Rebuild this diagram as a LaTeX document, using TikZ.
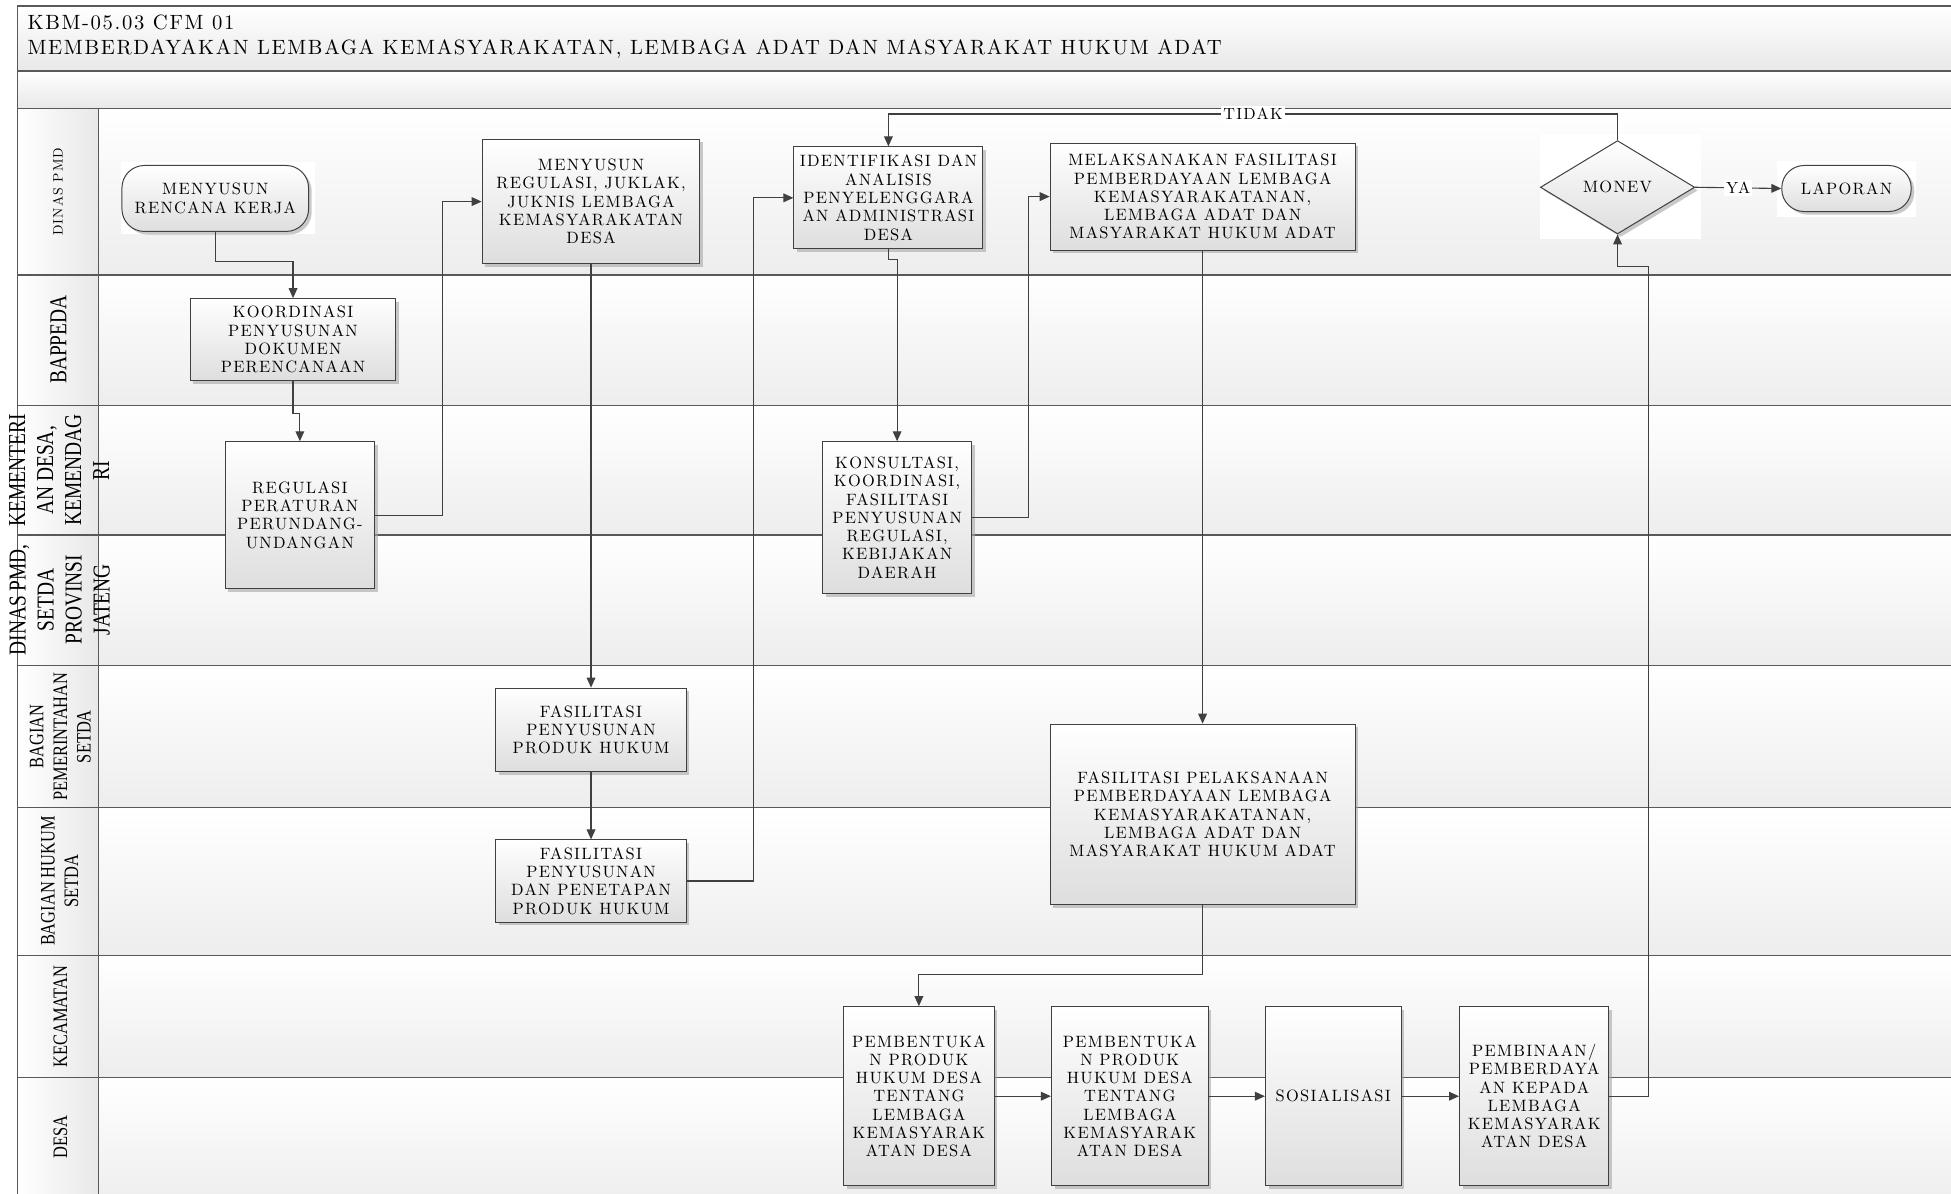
\documentclass[tikz,border=0pt]{standalone}
\usepackage{fontspec}
\usetikzlibrary{arrows.meta, shapes.geometric, shadows}
\newfontfamily\boxfont{lmroman10-regular}[Extension=.otf, LetterSpace=8]
\newfontfamily\lanefont{Liberation Serif}[FakeStretch=0.8]

\tikzset{
    band/.style={draw=black!65, line width=1.2pt, top color=white, bottom color=black!9},
    lanebody/.style={draw=black!65, line width=1.2pt, top color=white, bottom color=black!7},
    lanehead/.style={draw=black!65, line width=1.2pt, left color=white, right color=black!9},
    lanelbl/.style={rotate=90, align=center, inner sep=0pt},
    proc/.style={draw=black!75, line width=0.8pt, top color=white, bottom color=black!13,
        drop shadow={shadow xshift=2.5pt, shadow yshift=-2.5pt, fill=black!35, opacity=0.6},
        align=center, inner sep=2pt, font=\boxfont\fontsize{13.2}{14.7}\selectfont},
    term/.style={proc, rounded corners=18pt},
    decision/.style={proc, diamond, minimum width=124pt, minimum height=75pt, inner sep=0pt},
    arr/.style={draw=black!75, line width=0.9pt, -{Triangle[length=8pt, width=7pt]}},
    lbl/.style={fill=white, inner sep=1.5pt, font=\boxfont\fontsize{13}{14}\selectfont}
}

\begin{document}
\begin{tikzpicture}[x=1pt, y=-1pt]
    \useasboundingbox (0,0) rectangle (1568,959);

    % Header
    \draw[band] (14,5) rectangle (1580,57);
    \draw[band] (14,57) rectangle (1580,87);
    \node[anchor=north west, align=left, inner sep=0pt, font=\boxfont\fontsize{16.6}{20}\selectfont] (title) at (22,12)
        {KBM-05.03 CFM 01\\MEMBERDAYAKAN LEMBAGA KEMASYARAKATAN, LEMBAGA ADAT DAN MASYARAKAT HUKUM ADAT};

    % Lanes
    \draw[lanebody] (79,87) rectangle (1580,221);
    \draw[lanebody] (79,221) rectangle (1580,326);
    \draw[lanebody] (79,326) rectangle (1580,430);
    \draw[lanebody] (79,430) rectangle (1580,535);
    \draw[lanebody] (79,535) rectangle (1580,649);
    \draw[lanebody] (79,649) rectangle (1580,768);
    \draw[lanebody] (79,768) rectangle (1580,866);
    \draw[lanebody] (79,866) rectangle (1580,970);
    \draw[lanehead] (14,87) rectangle (79,221);
    \draw[lanehead] (14,221) rectangle (79,326);
    \draw[lanehead] (14,326) rectangle (79,430);
    \draw[lanehead] (14,430) rectangle (79,535);
    \draw[lanehead] (14,535) rectangle (79,649);
    \draw[lanehead] (14,649) rectangle (79,768);
    \draw[lanehead] (14,768) rectangle (79,866);
    \draw[lanehead] (14,866) rectangle (79,970);

    % Lane labels
    \node[lanelbl, font=\boxfont\fontsize{11}{12}\selectfont] (lpmd) at (46.5,154) {DINAS PMD};
    \node[lanelbl, font=\lanefont\fontsize{19.5}{22.5}\selectfont] (lbappeda) at (47,273) {BAPPEDA};
    \node[lanelbl, font=\lanefont\fontsize{19.5}{22.5}\selectfont] (lkemen) at (47.5,378) {KEMENTERI\\AN DESA,\\KEMENDAG\\RI};
    \node[lanelbl, font=\lanefont\fontsize{19.5}{22.5}\selectfont] (lprov) at (48,482) {DINAS PMD,\\SETDA\\PROVINSI\\JATENG};
    \node[lanelbl, font=\lanefont\fontsize{16.5}{19}\selectfont] (lpem) at (48.5,592) {BAGIAN\\PEMERINTAHAN\\SETDA};
    \node[lanelbl, font=\lanefont\fontsize{16.5}{19}\selectfont] (lhukum) at (48,708) {BAGIAN HUKUM\\SETDA};
    \node[lanelbl, font=\lanefont\fontsize{16.5}{19}\selectfont] (lkec) at (48.5,817) {KECAMATAN};
    \node[lanelbl, font=\lanefont\fontsize{16.5}{19}\selectfont] (ldesa) at (48.5,914) {DESA};

    % Draw nodes
    \fill[white] (97,130) rectangle (253,188);
    \fill[white] (1238,108) rectangle (1367,192);
    \fill[white] (1428,129) rectangle (1540,174);
    \node[term, minimum width=150pt, minimum height=53pt] (rk) at (173,159.5) {MENYUSUN\\RENCANA KERJA};
    \node[proc, minimum width=165pt, minimum height=66pt] (kdp) at (235.5,273) {KOORDINASI\\PENYUSUNAN\\DOKUMEN\\PERENCANAAN};
    \node[proc, minimum width=120pt, minimum height=118pt] (reg) at (241,414) {REGULASI\\PERATURAN\\PERUNDANG-\\UNDANGAN};
    \node[proc, minimum width=175pt, minimum height=100pt] (mrj) at (475,162) {MENYUSUN\\REGULASI, JUKLAK,\\JUKNIS LEMBAGA\\KEMASYARAKATAN\\DESA};
    \node[proc, minimum width=153pt, minimum height=67pt] (fpph) at (475,586.5) {FASILITASI\\PENYUSUNAN\\PRODUK HUKUM};
    \node[proc, minimum width=153pt, minimum height=66pt] (fdp) at (475,708) {FASILITASI\\PENYUSUNAN\\DAN PENETAPAN\\PRODUK HUKUM};
    \node[proc, minimum width=152pt, minimum height=82pt] (ida) at (714,159) {IDENTIFIKASI DAN\\ANALISIS\\PENYELENGGARA\\AN ADMINISTRASI\\DESA};
    \node[proc, minimum width=120pt, minimum height=122pt] (kons) at (721,416) {KONSULTASI,\\KOORDINASI,\\FASILITASI\\PENYUSUNAN\\REGULASI,\\KEBIJAKAN\\DAERAH};
    \node[proc, minimum width=245pt, minimum height=86pt] (mfp) at (966.5,158) {MELAKSANAKAN FASILITASI\\PEMBERDAYAAN LEMBAGA\\KEMASYARAKATANAN,\\LEMBAGA ADAT DAN\\MASYARAKAT HUKUM ADAT};
    \node[proc, minimum width=245pt, minimum height=145pt] (fpl) at (966.5,654.5) {FASILITASI PELAKSANAAN\\PEMBERDAYAAN LEMBAGA\\KEMASYARAKATANAN,\\LEMBAGA ADAT DAN\\MASYARAKAT HUKUM ADAT};
    \node[proc, minimum width=121pt, minimum height=144pt] (pb1) at (738.5,881) {PEMBENTUKA\\N PRODUK\\HUKUM DESA\\TENTANG\\LEMBAGA\\KEMASYARAK\\ATAN DESA};
    \node[proc, minimum width=126pt, minimum height=144pt] (pb2) at (908,881) {PEMBENTUKA\\N PRODUK\\HUKUM DESA\\TENTANG\\LEMBAGA\\KEMASYARAK\\ATAN DESA};
    \node[proc, minimum width=109pt, minimum height=144pt] (sos) at (1071.5,881) {SOSIALISASI};
    \node[proc, minimum width=120pt, minimum height=144pt] (pmb) at (1233,881) {PEMBINAAN/\\PEMBERDAYA\\AN KEPADA\\LEMBAGA\\KEMASYARAK\\ATAN DESA};
    \node[decision] (monev) at (1300,150.5) {MONEV};
    \node[term, minimum width=104pt, minimum height=37pt] (lap) at (1484,151.5) {LAPORAN};
    \coordinate (jog) at (1325,214);

    % Draw connections
    \draw[arr] (rk.south) -- ++(0,24) -| (kdp.north);
    \draw[arr] (kdp.south) -- ++(0,26) -| (reg.north);
    \draw[arr] (reg.east) -- ++(54,0) |- (mrj.west);
    \draw[arr] (mrj.south) -- (fpph.north);
    \draw[arr] (fpph.south) -- (fdp.north);
    \draw[arr] (fdp.east) -- ++(53.5,0) |- (ida.west);
    \draw[arr] (ida.south) -- ++(0,8) -| (kons.north);
    \draw[arr] (kons.east) -- ++(45,0) |- (mfp.west);
    \draw[arr] (mfp.south) -- (fpl.north);
    \draw[arr] (fpl.south) -- ++(0,56) -| (pb1.north);
    \draw[arr] (pb1.east) -- (pb2.west);
    \draw[arr] (pb2.east) -- (sos.west);
    \draw[arr] (sos.east) -- (pmb.west);
    \draw[arr] (pmb.east) -| (jog) -| (monev.south);
    \draw[arr] (monev.north) -- ++(0,-21) -| node[lbl, pos=0.25] (tidak) {TIDAK} (ida.north);
    \draw[arr] (monev.east) -- node[lbl] (ya) {YA} (lap.west);
\end{tikzpicture}
\end{document}
